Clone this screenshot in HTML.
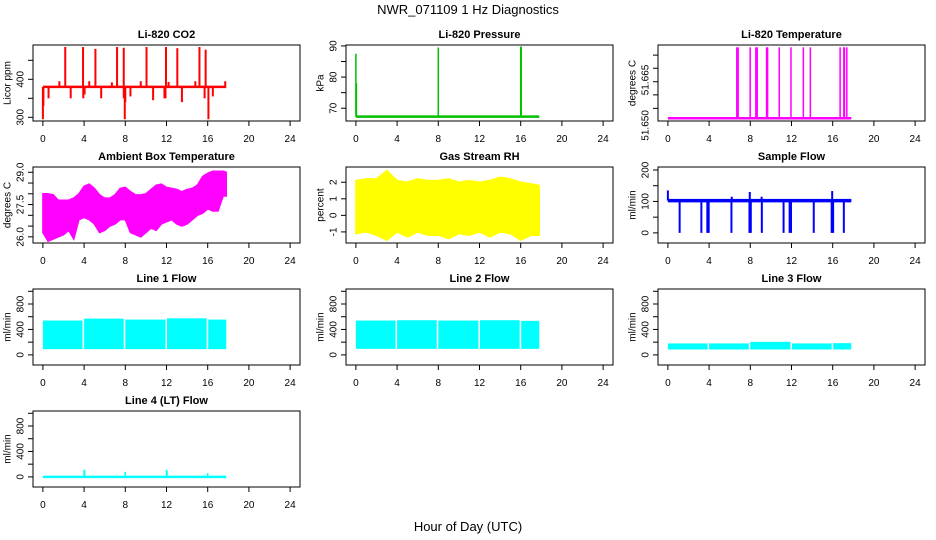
<!DOCTYPE html>
<html><head><meta charset="utf-8"><style>
body{margin:0;background:#fff}
svg{display:block;font-family:"Liberation Sans",sans-serif}
</style></head><body>
<svg id="c" width="936" height="540" viewBox="0 0 936 540" xmlns="http://www.w3.org/2000/svg">
<text x="468" y="14" text-anchor="middle" font-size="13">NWR_071109  1 Hz Diagnostics</text>
<text x="468" y="531" text-anchor="middle" font-size="13">Hour of Day (UTC)</text>
</svg>
<script>
// ---- data ----
const xTicks=[0,4,8,12,16,20,24];
const endHour=17.8;
const co2Base=380;
const co2SpikeHours=[0.0,0.05,7.95,8.0,16.07,2.17,3.9,5.1,7.2,7.85,10.06,11.95,13.05,15.2,15.8,0.55,2.7,3.92,4.05,5.66,7.85,8.5,10.7,11.8,11.9,13.5,15.7,16.5,1.6,4.5,6.7,9.5,12.2,14.8,17.7];
const co2SpikeValues=[295,330,295,340,295,485,485,480,485,483,485,485,482,485,478,350,350,350,360,350,350,355,345,350,350,340,350,355,395,395,392,395,393,395,395];
const presBase=67.3;
const presSpikeHours=[0.0,0.05,8.0,16.0,16.05];
const presSpikeValues=[87.5,78,89.5,89.8,89.8];
const tempBase=51.650;
const tempSpikeHours=[6.69,6.82,7.99,8.54,8.67,9.58,9.68,10.81,11.95,13.15,13.83,16.72,17.08,17.14,17.37];
const tempSpikeValues=[51.670,51.670,51.670,51.670,51.670,51.670,51.670,51.670,51.670,51.670,51.670,51.670,51.670,51.670,51.670];
const ambHours=[0,0.5,1,1.5,2,2.5,3,3.5,4,4.5,5,5.5,6,6.5,7,7.5,8,8.5,9,9.5,10,10.5,11,11.5,12,12.5,13,13.5,14,14.5,15,15.5,16,16.5,17,17.5,17.8];
const ambUpper=[28.0,28.0,27.95,27.7,27.7,27.7,27.8,28.0,28.35,28.45,28.25,27.95,27.8,27.8,27.95,28.25,28.3,28.1,27.95,27.95,28.0,28.2,28.4,28.45,28.3,28.25,28.2,28.1,28.2,28.25,28.4,28.8,28.95,29.05,29.05,29.05,29.0];
const ambLower=[26.2,25.8,25.9,26.0,26.1,26.3,25.9,26.8,26.9,26.8,26.6,26.2,26.3,26.5,26.6,26.8,26.8,26.2,26.1,26.0,26.2,26.4,26.3,26.6,26.7,26.8,26.6,26.5,26.6,26.8,27.0,27.1,27.3,27.2,27.2,27.9,27.9];
const rhHours=[0,1,2,3,4,5,6,7,8,9,10,11,12,13,14,15,16,17,17.8];
const rhUpper=[2.1,2.2,2.2,2.7,2.1,2.0,2.2,2.1,2.1,2.2,2.0,2.1,2.0,2.1,2.3,2.2,2.0,1.9,1.8];
const rhLower=[-1.1,-1.0,-1.2,-1.5,-1.0,-1.3,-1.0,-1.2,-1.2,-1.4,-1.1,-1.2,-1.0,-1.3,-1.0,-1.1,-1.5,-1.2,-1.2];
const sfBase=103;
const sfSpikeHours=[1.14,3.25,3.83,3.96,6.17,7.92,8.05,9.12,11.23,11.82,11.95,14.16,15.9,16.04,17.08,0.0,7.95,15.95,9.1,6.2];
const sfSpikeValues=[0,0,0,0,0,0,0,0,0,0,0,0,0,0,0,135,130,133,115,115];
const segStarts=[0,4.0,8.0,12.05,16.05];
const segEnds=[3.85,7.85,11.9,15.9,17.8];
const line1Upper=[540,570,555,575,555];
const line1Lower=[90,90,90,90,90];
const line2Upper=[540,545,540,545,535];
const line2Lower=[95,95,95,95,95];
const line3Upper=[180,180,205,180,185];
const line3Lower=[85,85,85,85,85];
const line4Base=0;
const line4SpikeHours=[4.0,4.05,8.0,12.0,12.05,16.0];
const line4SpikeValues=[110,110,80,110,100,60];

// ---- layout ----
const NS="http://www.w3.org/2000/svg";
const svg=document.getElementById('c');
const colLeft=[33,346,658], W=267, H=76;
function mk(tag,attrs,parent){const e=document.createElementNS(NS,tag);for(const k in attrs)e.setAttribute(k,attrs[k]);(parent||svg).appendChild(e);return e;}

function panel(cfg){
  const L=colLeft[cfg.col], T=45+122*cfg.row;
  const g=mk('g',{});
  
  
  const xs=h=>L+(h+0.96)/25.92*W;
  const ys=v=>T+(cfg.ymax-v)/(cfg.ymax-cfg.ymin)*H;
  const t=mk('text',{x:L+W/2,y:T-7,'text-anchor':'middle','font-size':11,'font-weight':'bold'},g);
  t.textContent=cfg.title;
  
  
  const dg=mk('g',{},g);
  
  
  cfg.draw(dg,xs,ys);
  const box=mk('rect',{x:L,y:T,width:W,height:H,fill:'none',stroke:'#000','stroke-width':1},g);
  
  
  xTicks.forEach(v=>{
    const x=xs(v);
    mk('line',{x1:x,y1:T+H,x2:x,y2:T+H+5,stroke:'#000'},g);
    const tl=mk('text',{x:x,y:T+H+21,'text-anchor':'middle','font-size':10},g);
    tl.textContent=v;
    
    
  });
  cfg.yTicks.forEach(v=>{const y=ys(v);mk('line',{x1:L,y1:y,x2:L-5,y2:y,stroke:'#000'},g);});
  cfg.yLabels.forEach((lab,i)=>{
    const y=ys(cfg.yLabelVals[i]);
    const tl=mk('text',{x:L-12,y:y,'text-anchor':'middle','font-size':10,'dominant-baseline':'central',transform:`rotate(-90 ${L-12} ${y})`},g);
    tl.textContent=lab;
    
    
  });
  const yc=T+H/2;
  const yt=mk('text',{x:L-25,y:yc,'text-anchor':'middle','font-size':10,'dominant-baseline':'central',transform:`rotate(-90 ${L-25} ${yc})`},g);
  yt.textContent=cfg.ylab;
  
  
}
function spikes(g,xs,ys,base,hours,vals,color,w){
  hours.forEach((h,i)=>{const l=mk('line',{x1:xs(h),x2:xs(h),y1:ys(base),y2:ys(vals[i]),stroke:color,'stroke-width':w},g);
    
    });
  const b=mk('line',{x1:xs(0),x2:xs(endHour),y1:ys(base),y2:ys(base),stroke:color,'stroke-width':2.5},g);
  
  
}
function band(g,xs,ys,hours,up,lo,color){
  let p=hours.map((h,i)=>xs(h)+','+ys(up[i]));
  for(let i=hours.length-1;i>=0;i--)p.push(xs(hours[i])+','+ys(lo[i]));
  const e=mk('polygon',{points:p.join(' '),fill:color,stroke:color,'stroke-width':1.5},g);
  
  
}
function segs(g,xs,ys,up,lo,color){
  segStarts.forEach((s,i)=>{const r=mk('rect',{x:xs(s),y:ys(up[i]),width:xs(segEnds[i])-xs(s),height:ys(lo[i])-ys(up[i]),fill:color},g);
    
    });
}
const flowTicks=[0,200,400,600,800,1000], flowLabs=['0','400','800'], flowLabVals=[0,400,800];

panel({name:'panel-co2',col:0,row:0,title:'Li-820 CO2',ylab:'Licor ppm',ymin:290.3,ymax:490.3,yTicks:[300,350,400,450],yLabels:['300','400'],yLabelVals:[300,400],
  draw:(g,xs,ys)=>spikes(g,xs,ys,co2Base,co2SpikeHours,co2SpikeValues,'#ff0000',2)});
panel({name:'panel-pressure',col:1,row:0,title:'Li-820 Pressure',ylab:'kPa',ymin:65.9,ymax:90.3,yTicks:[70,75,80,85,90],yLabels:['70','80','90'],yLabelVals:[70,80,90],
  draw:(g,xs,ys)=>spikes(g,xs,ys,presBase,presSpikeHours,presSpikeValues,'#00c000',1.5)});
panel({name:'panel-temperature',col:2,row:0,title:'Li-820 Temperature',ylab:'degrees C',ymin:51.64924,ymax:51.67065,yTicks:[51.6678,51.6641,51.6603,51.6566,51.6528],yLabels:['51.650','51.665'],yLabelVals:[51.6480,51.6608],
  draw:(g,xs,ys)=>spikes(g,xs,ys,tempBase,tempSpikeHours,tempSpikeValues,'#ff00ff',1.5)});
panel({name:'panel-ambient-temp',col:0,row:1,title:'Ambient Box Temperature',ylab:'degrees C',ymin:25.714,ymax:29.245,yTicks:[26,26.5,27,27.5,28,28.5,29],yLabels:['26.0','27.5','29.0'],yLabelVals:[26,27.5,29],
  draw:(g,xs,ys)=>band(g,xs,ys,ambHours,ambUpper,ambLower,'#ff00ff')});
panel({name:'panel-rh',col:1,row:1,title:'Gas Stream RH',ylab:'percent',ymin:-1.67,ymax:2.92,yTicks:[-1,0,1,2],yLabels:['-1','0','1','2'],yLabelVals:[-1,0,1,2],
  draw:(g,xs,ys)=>band(g,xs,ys,rhHours,rhUpper,rhLower,'#ffff00')});
panel({name:'panel-sample-flow',col:2,row:1,title:'Sample Flow',ylab:'ml/min',ymin:-32.2,ymax:209.5,yTicks:[0,50,100,150,200],yLabels:['0','100','200'],yLabelVals:[0,100,200],
  draw:(g,xs,ys)=>{spikes(g,xs,ys,sfBase,sfSpikeHours,sfSpikeValues,'#0000ff',2);
    const r=mk('rect',{x:xs(0),y:ys(108),width:xs(endHour)-xs(0),height:ys(97)-ys(108),fill:'#0000ff'},g);
    
    }});
panel({name:'panel-line1',col:0,row:2,title:'Line 1 Flow',ylab:'ml/min',ymin:-159,ymax:1036,yTicks:flowTicks,yLabels:flowLabs,yLabelVals:flowLabVals,
  draw:(g,xs,ys)=>segs(g,xs,ys,line1Upper,line1Lower,'#00ffff')});
panel({name:'panel-line2',col:1,row:2,title:'Line 2 Flow',ylab:'ml/min',ymin:-159,ymax:1036,yTicks:flowTicks,yLabels:flowLabs,yLabelVals:flowLabVals,
  draw:(g,xs,ys)=>segs(g,xs,ys,line2Upper,line2Lower,'#00ffff')});
panel({name:'panel-line3',col:2,row:2,title:'Line 3 Flow',ylab:'ml/min',ymin:-159,ymax:1036,yTicks:flowTicks,yLabels:flowLabs,yLabelVals:flowLabVals,
  draw:(g,xs,ys)=>segs(g,xs,ys,line3Upper,line3Lower,'#00ffff')});
panel({name:'panel-line4',col:0,row:3,title:'Line 4 (LT) Flow',ylab:'ml/min',ymin:-159,ymax:1036,yTicks:flowTicks,yLabels:flowLabs,yLabelVals:flowLabVals,
  draw:(g,xs,ys)=>spikes(g,xs,ys,line4Base,line4SpikeHours,line4SpikeValues,'#00ffff',1.5)});
</script>
</body></html>
